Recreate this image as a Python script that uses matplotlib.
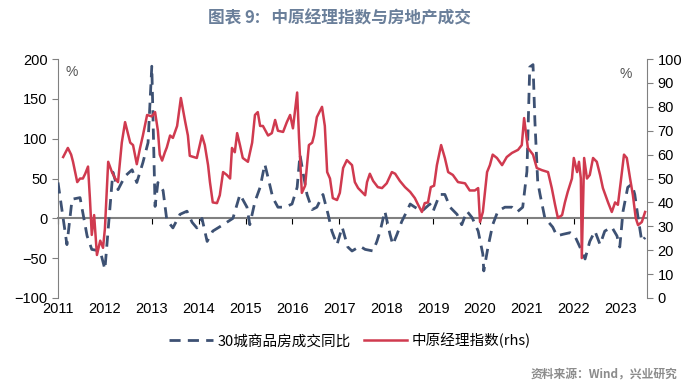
import matplotlib
matplotlib.use("Agg")
import matplotlib.pyplot as plt

plt.rcParams['font.family'] = ['Liberation Sans', 'Noto Sans CJK SC', 'DejaVu Sans']

# 30城商品房成交同比 (%), 左轴
deal_t = [2011.00, 2011.19, 2011.30, 2011.47, 2011.62, 2011.72, 2011.90, 2012.00, 2012.11, 2012.17,
          2012.28, 2012.43, 2012.58, 2012.68, 2012.81, 2012.92, 2013.00, 2013.07, 2013.13, 2013.24,
          2013.32, 2013.45, 2013.60, 2013.75, 2013.86, 2013.96, 2014.07, 2014.18, 2014.30, 2014.52,
          2014.73, 2014.88, 2015.03, 2015.09, 2015.20, 2015.31, 2015.41, 2015.48, 2015.58, 2015.69,
          2015.84, 2015.99, 2016.10, 2016.16, 2016.22, 2016.31, 2016.42, 2016.52, 2016.65, 2016.76,
          2016.84, 2016.95, 2017.06, 2017.18, 2017.27, 2017.44, 2017.55, 2017.72, 2017.80, 2017.87,
          2017.97, 2018.08, 2018.14, 2018.23, 2018.33, 2018.44, 2018.51, 2018.61, 2018.76, 2018.93,
          2019.00, 2019.14, 2019.25, 2019.36, 2019.51, 2019.61, 2019.72, 2019.83, 2019.96, 2020.06,
          2020.08, 2020.17, 2020.27, 2020.38, 2020.53, 2020.68, 2020.79, 2020.91, 2021.00, 2021.06,
          2021.13, 2021.17, 2021.23, 2021.28, 2021.38, 2021.45, 2021.55, 2021.64, 2021.77, 2021.92,
          2022.02, 2022.13, 2022.24, 2022.34, 2022.45, 2022.56, 2022.66, 2022.81, 2022.92, 2022.98,
          2023.05, 2023.15, 2023.24, 2023.30, 2023.37, 2023.45, 2023.52]
deal_yoy = [45, -33, 24, 26, -22, -39, -41, -64, 15, 58,
            36, 53, 61, 45, 70, 95, 191, 15, 45, 35,
            -2, -12, 5, 9, -5, -12, 0, -29, -16, -8,
            0, 30, 14, -8, 21, 39, 68, 51, 26, 14,
            14, 18, 39, 80, 59, 30, 11, 14, 30, 5,
            -16, -33, -11, -36, -41, -35, -39, -41, -29, -16,
            9, -20, -33, -20, -4, 9, 18, 14, 9, 18,
            9, 30, 30, 14, 5, -8, 9, 1, -16, -45,
            -66, -36, -8, 9, 14, 14, 8, 14, 59, 190,
            193, 122, 46, 30, 1, -4, -11, -22, -20, -18,
            -22, -36, -51, -29, -16, -33, -16, -11, -22, -36,
            9, 39, 43, 30, 1, -29, -24]

# 中原经理指数, 右轴
cmi_t = [2011.11, 2011.21, 2011.28, 2011.32, 2011.41, 2011.47, 2011.53, 2011.58, 2011.64, 2011.68,
         2011.72, 2011.77, 2011.83, 2011.90, 2011.96, 2012.00, 2012.07, 2012.15, 2012.22, 2012.28,
         2012.36, 2012.43, 2012.54, 2012.60, 2012.68, 2012.75, 2012.81, 2012.90, 2013.00, 2013.07,
         2013.13, 2013.17, 2013.22, 2013.28, 2013.32, 2013.39, 2013.45, 2013.54, 2013.62, 2013.71,
         2013.77, 2013.81, 2013.96, 2014.07, 2014.13, 2014.20, 2014.24, 2014.30, 2014.39, 2014.45,
         2014.52, 2014.60, 2014.67, 2014.71, 2014.77, 2014.82, 2014.88, 2014.94, 2015.05, 2015.14,
         2015.20, 2015.26, 2015.31, 2015.37, 2015.48, 2015.56, 2015.63, 2015.69, 2015.80, 2015.88,
         2015.95, 2016.01, 2016.10, 2016.14, 2016.20, 2016.27, 2016.35, 2016.42, 2016.46, 2016.52,
         2016.63, 2016.69, 2016.74, 2016.80, 2016.86, 2016.95, 2017.01, 2017.08, 2017.16, 2017.27,
         2017.33, 2017.40, 2017.48, 2017.55, 2017.59, 2017.65, 2017.72, 2017.82, 2017.91, 2018.01,
         2018.12, 2018.19, 2018.29, 2018.40, 2018.51, 2018.61, 2018.68, 2018.76, 2018.82, 2018.89,
         2018.95, 2019.02, 2019.08, 2019.17, 2019.25, 2019.32, 2019.42, 2019.53, 2019.68, 2019.78,
         2019.89, 2019.96, 2020.00, 2020.06, 2020.15, 2020.21, 2020.27, 2020.36, 2020.47, 2020.57,
         2020.68, 2020.81, 2020.89, 2020.94, 2021.02, 2021.13, 2021.21, 2021.32, 2021.45, 2021.53,
         2021.60, 2021.66, 2021.75, 2021.81, 2021.87, 2021.96, 2022.00, 2022.07, 2022.11, 2022.15,
         2022.17, 2022.22, 2022.28, 2022.34, 2022.41, 2022.49, 2022.56, 2022.62, 2022.73, 2022.81,
         2022.88, 2022.94, 2023.00, 2023.07, 2023.13, 2023.20, 2023.26, 2023.32, 2023.37, 2023.45,
         2023.52]
cmi = [59, 62.8, 60, 57, 48.5, 50, 50, 52, 55, 41.8,
       26.4, 34.7, 18, 24, 21, 29, 57, 52.7, 50, 48.5,
       65, 73.6, 65, 64, 56, 62.8, 68, 76.6, 76, 77.8,
       70, 60, 57.5, 61, 63, 68, 67, 72, 83.7, 74,
       68, 59.5, 58.6, 68, 64, 55.6, 48.5, 40, 39.7, 43,
       52.7, 51.5, 50, 62.8, 61, 69, 64, 58.6, 57, 65,
       76.6, 77.8, 72, 72, 68, 69, 74.5, 70, 69.5, 73.6,
       76.6, 71, 86, 67, 44, 47, 64, 65, 68, 75.7,
       80, 72, 52.7, 50, 41.8, 41, 44, 54.4, 57.7, 55.6,
       48.5, 46, 44.4, 43, 48.5, 52, 49, 46.4, 46, 48,
       52.7, 52, 49, 46.4, 44.4, 41.8, 39, 36, 39.7, 40,
       46.4, 47, 55.6, 64, 58.6, 52.7, 51.5, 48.5, 48, 45,
       45, 46, 31.8, 36, 52.7, 55.6, 60, 58.6, 55.6, 59,
       60.7, 62, 64, 75.3, 62.8, 60, 54.4, 53.5, 52.7, 46,
       39, 33.5, 34.7, 40, 44.4, 50, 58.6, 52.7, 57, 50,
       16.7, 58.6, 50, 51.5, 58.6, 57, 51.5, 46, 40, 36,
       40, 39, 48.5, 60, 58.6, 50, 43, 33.5, 30.5, 31.8,
       36]

years = list(range(2011, 2024))

blue = '#3d5173'
red = '#d03a4f'
gray = '#808080'
cjk = ['Noto Sans CJK SC', 'DejaVu Sans']

fig = plt.figure(figsize=(6.89, 3.86), dpi=100)
ax1 = fig.add_axes([0.0842, 0.228, 0.8548, 0.619])
ax2 = ax1.twinx()

l1, = ax1.plot(deal_t, deal_yoy, color=blue, lw=2.0, linestyle=(0, (4, 2.6)), zorder=3)
l2, = ax2.plot(cmi_t, cmi, color=red, lw=1.8)

ax1.set_xlim(2011, 2023.56)
ax1.set_ylim(-100, 200)
ax1.set_yticks(range(-100, 201, 50))
ax2.set_ylim(0, 100)
ax2.set_yticks(range(0, 101, 10))

# x轴在0的位置，年份标签放在底部
ax1.spines['bottom'].set_position(('data', 0))
ax1.set_xticks(years)
ax1.tick_params(axis='x', labelbottom=False, length=4, color='black', width=0.8)
sec = ax1.secondary_xaxis('bottom')
sec.set_xticks(years)
sec.set_xticklabels([str(y) for y in years])
sec.tick_params(length=0, labelsize=10.5, pad=3)
sec.spines['bottom'].set_visible(False)

for ax in (ax1, ax2):
    ax.spines['top'].set_visible(False)
ax1.spines['right'].set_visible(False)
ax2.spines['bottom'].set_visible(False)
ax2.spines['left'].set_visible(False)
ax1.spines['left'].set_color(gray)
ax1.spines['bottom'].set_color(gray)
ax1.spines['bottom'].set_linewidth(1.5)
ax2.spines['right'].set_color(gray)
ax1.tick_params(axis='y', labelsize=10.5, color=gray, length=4)
ax2.tick_params(axis='y', labelsize=10.5, color=gray, length=4)

ax1.text(0.012, 0.975, '%', transform=ax1.transAxes, color='#555555', fontsize=10, va='top')
ax2.text(0.975, 0.965, '%', transform=ax2.transAxes, color='#555555', fontsize=10, va='top', ha='right')

fig.text(0.493, 0.953, '图表 9:   中原经理指数与房地产成交', ha='center', va='center',
         fontsize=12, fontweight='bold', color='#6a7f9a', family=cjk)

fig.legend([l1, l2], ['30城商品房成交同比', '中原经理指数(rhs)'], loc='center',
           bbox_to_anchor=(0.508, 0.118), ncol=2, frameon=False, columnspacing=0.9,
           handlelength=3.0, handletextpad=0.3,
           prop={'family': cjk, 'size': 10.5})

fig.text(0.983, 0.028, '资料来源：Wind，兴业研究', ha='right', va='center', fontsize=8.5,
         color='#8c8c8c', fontweight='bold', family=cjk)

fig.savefig('out.png', dpi=100)
